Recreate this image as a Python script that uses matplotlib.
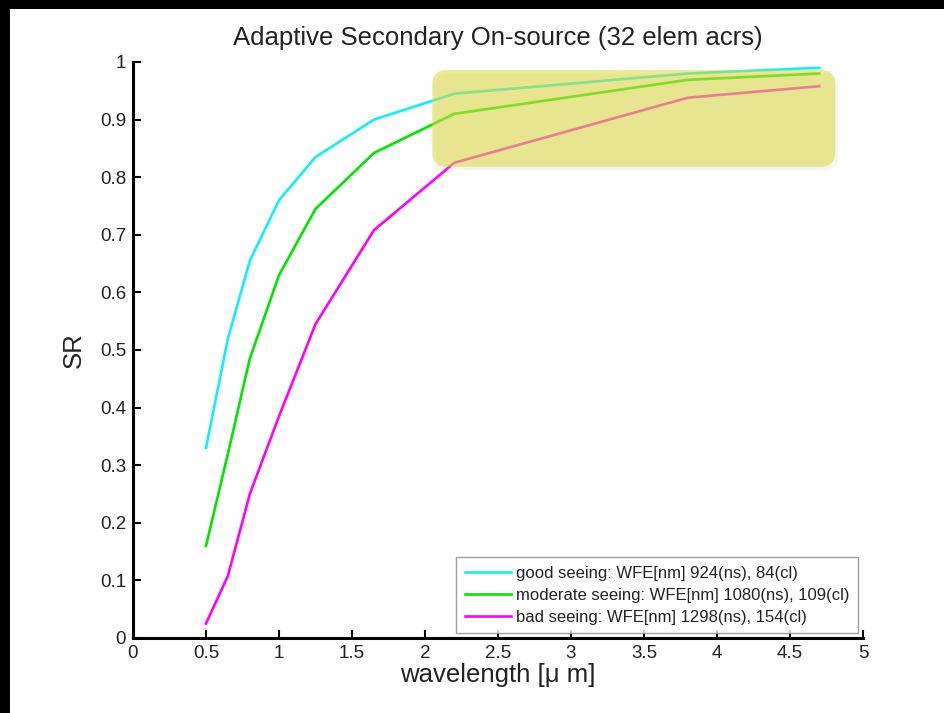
import matplotlib
matplotlib.use('Agg')
import matplotlib.pyplot as plt
from matplotlib.patches import FancyBboxPatch, Rectangle

plt.rcParams['font.family'] = ['Liberation Sans', 'DejaVu Sans']

# wavelength bands (um)
wavelength = [0.5, 0.65, 0.8, 1.0, 1.25, 1.65, 2.2, 3.8, 4.7]
sr_good = [0.33, 0.52, 0.655, 0.76, 0.835, 0.90, 0.945, 0.98, 0.99]
sr_moderate = [0.16, 0.32, 0.485, 0.63, 0.745, 0.842, 0.91, 0.969, 0.98]
sr_bad = [0.025, 0.108, 0.25, 0.385, 0.545, 0.708, 0.825, 0.938, 0.958]

labels = ['good seeing: WFE[nm] 924(ns), 84(cl)',
          'moderate seeing: WFE[nm] 1080(ns), 109(cl)',
          'bad seeing: WFE[nm] 1298(ns), 154(cl)']
colors = ['#10f0f8', '#00e600', '#ff00ff']

W, H = 944, 713
fig = plt.figure(figsize=(W / 100, H / 100), dpi=100)
fig.patch.set_facecolor('white')

# black bars at top and left edge of the screenshot
fig.patches.append(Rectangle((0, 1 - 9 / H), 1, 9 / H, transform=fig.transFigure,
                             facecolor='black', edgecolor='none'))
fig.patches.append(Rectangle((0, 0), 10 / W, 1, transform=fig.transFigure,
                             facecolor='black', edgecolor='none'))

ax_l, ax_b, ax_w, ax_h = 133, 638, 730, 576
ax = fig.add_axes([ax_l / W, (H - ax_b) / H, ax_w / W, ax_h / H])

for y, c, lab in zip([sr_good, sr_moderate, sr_bad], colors, labels):
    ax.plot(wavelength, y, color=c, lw=1.9, label=lab, zorder=2)

ax.set_xlim(0, 5)
ax.set_ylim(0, 1)
ax.set_xticks([0, 0.5, 1, 1.5, 2, 2.5, 3, 3.5, 4, 4.5, 5])
ax.set_xticklabels(['0', '0.5', '1', '1.5', '2', '2.5', '3', '3.5', '4', '4.5', '5'])
ax.set_yticks([0, 0.1, 0.2, 0.3, 0.4, 0.5, 0.6, 0.7, 0.8, 0.9, 1])
ax.set_yticklabels(['0', '0.1', '0.2', '0.3', '0.4', '0.5', '0.6', '0.7', '0.8', '0.9', '1'])
ax.tick_params(direction='in', length=6, width=1.5, labelsize=13.5, colors='black',
               labelcolor='#222222', pad=5)
for s in ['top', 'right']:
    ax.spines[s].set_visible(False)
for s in ['left', 'bottom']:
    ax.spines[s].set_linewidth(2.2)

ax.set_title('Adaptive Secondary On-source (32 elem acrs)', fontsize=18.5,
             color='#222222', pad=12)
ax.set_xlabel('wavelength [\u03bc m]', fontsize=18.5, color='#222222', labelpad=1)
ax.set_ylabel('SR', fontsize=18.5, color='#222222', labelpad=10)

# highlighted region (rounded yellow box)
asp = (ax_w / 5.0) / (ax_h / 1.0)
shadow = FancyBboxPatch((2.07, 0.812), 2.76, 0.168,
                        boxstyle='round,pad=0,rounding_size=0.1',
                        mutation_aspect=asp, facecolor='#b0b0b0', alpha=0.12,
                        edgecolor='none', zorder=3)
ax.add_patch(shadow)
box = FancyBboxPatch((2.05, 0.818), 2.76, 0.168,
                     boxstyle='round,pad=0,rounding_size=0.1',
                     mutation_aspect=asp, facecolor='#dcd83c', alpha=0.55,
                     edgecolor='none', zorder=3)
ax.add_patch(box)

leg = ax.legend(loc='lower right', fontsize=12, frameon=True, fancybox=False,
                borderaxespad=0.3, handlelength=2.8, labelspacing=0.42,
                borderpad=0.5, handletextpad=0.3)
leg.get_frame().set_edgecolor('#888888')
leg.get_frame().set_linewidth(1.0)
for t in leg.get_texts():
    t.set_color('#222222')

fig.savefig('out.png', dpi=100)
